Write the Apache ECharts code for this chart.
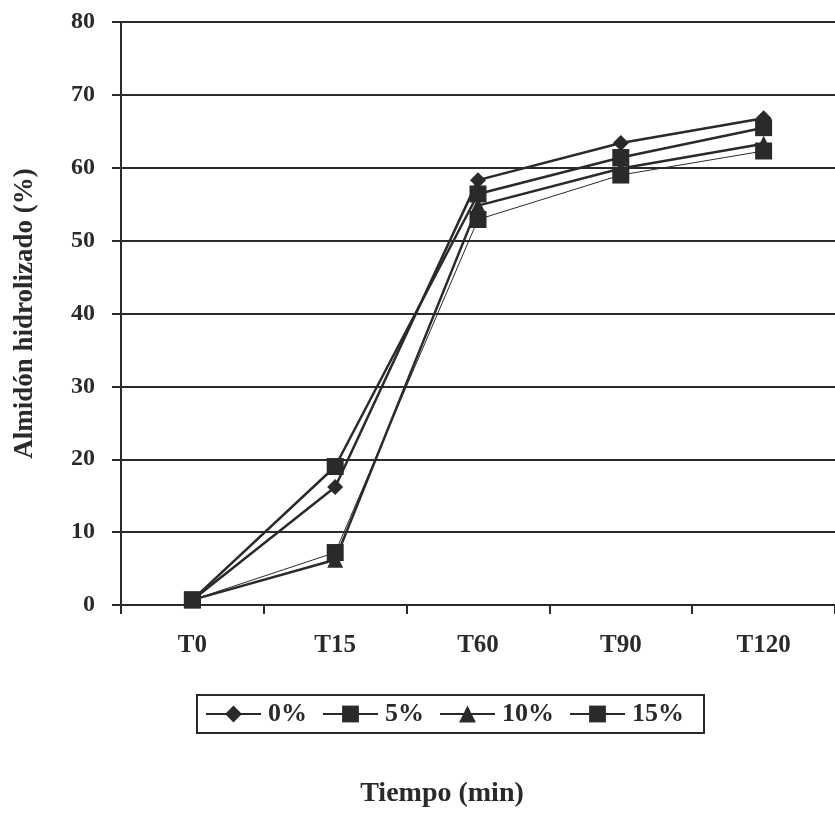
<!doctype html>
<html>
	<head>
		<meta charset="utf-8">
		<title>Almidón hidrolizado</title>
		<script type="text/javascript" src="https://cdn.jsdelivr.net/npm/echarts@6/dist/echarts.min.js"></script>
	</head>

	<body style="margin:0;padding:0;background:#fff">
		<div id="tb" style="width:835px;height:813px;"></div>
		<script>
			// datos
			var tiempos = ['T0', 'T15', 'T60', 'T90', 'T120'];
			var nombres = ['0%', '5%', '10%', '15%'];
			var s0 = [0.7, 16.2, 58.3, 63.4, 66.8];
			var s5 = [0.7, 19.0, 56.4, 61.4, 65.5];
			var s10 = [0.7, 6.2, 54.8, 59.9, 63.3];
			var s15 = [0.7, 7.2, 52.9, 59.0, 62.3];
			var yTicks = [0, 10, 20, 30, 40, 50, 60, 70, 80];

			var tinta = '#2a2a2a';
			var fuente = 'Liberation Serif';

			var chart = echarts.init(document.getElementById('tb'));

			function serie(nombre, datos, simbolo, tam, ancho) {
				return {
					name: nombre,
					type: 'line',
					data: datos,
					symbol: simbolo,
					symbolSize: tam,
					showAllSymbol: true,
					lineStyle: {color: tinta, width: ancho},
					itemStyle: {color: tinta},
					emphasis: {disabled: true}
				};
			}

			chart.setOption({
				animation: false,
				textStyle: {fontFamily: fuente, color: tinta},
				grid: {left: 121, top: 22, width: 717, bottom: 207},
				legend: {
					data: nombres,
					left: 197,
					top: 695,
					padding: [6, 20, 6, 8],
					itemGap: 15,
					itemWidth: 55,
					itemHeight: 21,
					borderColor: tinta,
					borderWidth: 2,
					borderRadius: 0,
					textStyle: {fontFamily: fuente, fontWeight: 'bold', fontSize: 26, color: tinta, padding: [0, 0, 0, 2]}
				},
				xAxis: {
					type: 'category',
					data: tiempos,
					boundaryGap: true,
					name: 'Tiempo (min)',
					nameLocation: 'middle',
					nameGap: 175,
					nameTextStyle: {fontFamily: fuente, fontWeight: 'bold', fontSize: 28, color: tinta, padding: [0, 0, 0, -72]},
					axisLine: {lineStyle: {color: tinta, width: 2}},
					axisTick: {show: true, length: 9, lineStyle: {color: tinta, width: 2}},
					axisLabel: {fontFamily: fuente, fontWeight: 'bold', fontSize: 25, color: tinta, margin: 28}
				},
				yAxis: {
					type: 'value',
					min: 0,
					max: 80,
					interval: 10,
					name: 'Almidón hidrolizado (%)',
					nameLocation: 'middle',
					nameGap: 82,
					nameTextStyle: {fontFamily: fuente, fontWeight: 'bold', fontSize: 27, color: tinta},
					axisLine: {show: true, lineStyle: {color: tinta, width: 2}},
					axisTick: {show: true, length: 9, lineStyle: {color: tinta, width: 2}},
					axisLabel: {
						fontFamily: fuente, fontWeight: 'bold', fontSize: 24, color: tinta, margin: 26,
						formatter: function(v) { return yTicks.indexOf(v) >= 0 ? String(v) : ''; }
					},
					splitLine: {show: true, lineStyle: {color: tinta, width: 2}}
				},
				series: [
					serie('0%', s0, 'diamond', 16, 2.5),
					serie('5%', s5, 'rect', 17, 2.5),
					serie('10%', s10, 'triangle', 16, 2.5),
					serie('15%', s15, 'rect', 17, 1)
				]
			});
		</script>
	</body>
</html>
